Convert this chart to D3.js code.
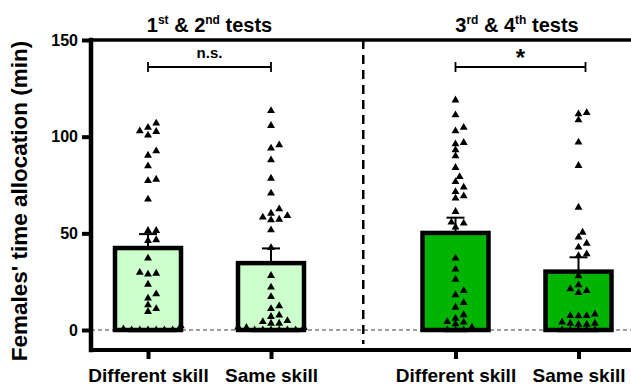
<!DOCTYPE html>
<html>
<head>
<meta charset="utf-8">
<script src="https://cdn.jsdelivr.net/npm/d3@7"></script>
<style>
  html, body { margin: 0; padding: 0; background: #fff; }
  svg { display: block; font-family: Arial, "Liberation Sans", sans-serif; }
</style>
</head>
<body>
<svg id="chart" width="631" height="389"></svg>
<script>
// ---- data ---------------------------------------------------------------
const categories = ["Different skill", "Same skill", "Different skill", "Same skill"];
const panelTitles = [["1", "st", " & 2", "nd", " tests"], ["3", "rd", " & 4", "th", " tests"]];
const significance = ["n.s.", "*"];
const yTicks = [0, 50, 100, 150];

// bar heights (mean) and error bar (SEM), minutes
const means = [42.4, 34.6, 50.2, 30.2];
const sems = [7.2, 7.6, 7.9, 7.4];

// individual females, minutes
const diff12 = [106.9, 102.6, 104.7, 100.7, 102.9, 90.3, 92.6, 84.8, 77.9, 77.2, 67.6,
  51.4, 51.4, 46.6, 46.2, 37.1, 29.7, 28.8, 29.3, 23.6, 18.6, 16.4, 12.9, 11.0, 9.5,
  0, 2.1, 0, 0.5, 0, 0, 0, 0];
const same12 = [113.4, 105.7, 94.0, 95.7, 87.9, 78.4, 70.7, 62.6, 59.1, 58.3, 60.3, 56.9,
  57.2, 51.7, 42.5, 28.1, 22.1, 17.2, 12.4, 11.0, 6.9, 7.6, 4.8, 4.3, 3.4, 3.4, 1.4, 1.2,
  1.2, 0, 0, 0, 0, 0, 0];
const diff34 = [118.9, 111.2, 102.9, 104.7, 96.9, 96.2, 93.1, 90.0, 84.0, 79.3, 76.7, 73.8,
  71.5, 68.1, 69.3, 61.2, 55.2, 55.7, 53.1, 37.1, 31.4, 26.2, 20.3, 18.1, 14.1, 11.7, 7.8,
  6.0, 4.3, 3.1, 4.0, 1.4, 0, 0, 0];
const same34 = [111.7, 112.4, 108.6, 97.1, 85.0, 63.4, 50.5, 48.0, 44.8, 42.8, 39.3, 38.4,
  27.9, 23.3, 19.3, 20.3, 21.2, 7.4, 8.1, 7.2, 7.4, 3.4, 2.9, 3.4, 2.9, 4.0, 0, 0, 0, 0, 0];
const points = [diff12, same12, diff34, same34];
const fills = ["#ccffcc", "#ccffcc", "#00b400", "#00b400"];

// ---- layout -------------------------------------------------------------
const svg = d3.select("#chart");
const plotLeft = 91, plotRight = 631, plotTop = 40, zeroY = 330, plotBottom = 350;
const font = "Arial, 'Liberation Sans', sans-serif";

const y = d3.scaleLinear().domain([0, 150]).range([zeroY, plotTop]);
// slot of each bar: two bars per panel, half a slot of extra gap between panels
const slot = i => i + (i >= 2 ? 0.5 : 0);
const x = d3.scaleLinear().domain([0, 3.5]).range([148, 578.5]);
const cx = i => x(slot(i));
const barHalf = 33;

// zero reference line
svg.append("line")
  .attr("x1", plotLeft).attr("x2", plotRight).attr("y1", y(0)).attr("y2", y(0))
  .attr("stroke", "#808080").attr("stroke-width", 1.3).attr("stroke-dasharray", "4,3");

// bars
svg.selectAll("rect.bar").data(means).join("rect")
  .attr("class", "bar")
  .attr("x", (d, i) => cx(i) - barHalf)
  .attr("width", barHalf * 2)
  .attr("y", d => y(d))
  .attr("height", d => y(0) - y(d))
  .attr("fill", (d, i) => fills[i])
  .attr("stroke", "#000").attr("stroke-width", 4.5);

// error bars (upper only)
means.forEach((m, i) => {
  const g = svg.append("g").attr("stroke", "#000").attr("stroke-width", 2);
  g.append("line").attr("x1", cx(i)).attr("x2", cx(i)).attr("y1", y(m)).attr("y2", y(m + sems[i]));
  g.append("line").attr("x1", cx(i) - 9).attr("x2", cx(i) + 9)
    .attr("y1", y(m + sems[i])).attr("y2", y(m + sems[i]));
});

// scatter of individual values, spread sideways so markers do not overlap
// (placed from the lowest value upwards)
function swarm(values, center) {
  const step = 4.1, rx = 7.9, ry = 5.6;
  const items = values.map(v => ({ v, py: y(v) })).sort((a, b) => b.py - a.py);
  const placed = [];
  items.forEach(p => {
    for (let k = 0; k < 60; k++) {
      const cands = k === 0 ? [0] : [k * step, -k * step];
      let ok = null;
      for (const off of cands) {
        const hit = placed.some(q => {
          const dx = (q.px - (center + off)) / rx, dy = (q.py - p.py) / ry;
          return dx * dx + dy * dy < 1;
        });
        if (!hit) { ok = off; break; }
      }
      if (ok !== null) { p.px = center + ok; break; }
    }
    placed.push(p);
  });
  return placed;
}
const tri = d3.symbol().type(d3.symbolTriangle).size(27);
points.forEach((vals, i) => {
  svg.append("g").selectAll("path").data(swarm(vals, cx(i))).join("path")
    .attr("d", tri)
    .attr("transform", d => `translate(${d.px},${d.py})`)
    .attr("fill", "#000");
});

// frame: top rule, y axis, x axis
const ax = svg.append("g").attr("stroke", "#000").attr("stroke-linecap", "square");
ax.append("line").attr("x1", plotLeft).attr("x2", plotRight).attr("y1", plotTop).attr("y2", plotTop).attr("stroke-width", 3.5);
ax.append("line").attr("x1", plotLeft).attr("x2", plotLeft).attr("y1", plotTop).attr("y2", plotBottom).attr("stroke-width", 4.5);
ax.append("line").attr("x1", plotLeft).attr("x2", plotRight).attr("y1", plotBottom).attr("y2", plotBottom).attr("stroke-width", 4);

// y axis ticks and labels
const yAxis = d3.axisLeft(y).tickValues(yTicks).tickSize(9).tickPadding(4).tickFormat(d3.format("d"));
const gy = svg.append("g").attr("transform", `translate(${plotLeft},0)`).call(yAxis);
gy.select(".domain").remove();
gy.selectAll(".tick line").attr("stroke", "#000").attr("stroke-width", 4);
gy.selectAll(".tick text").attr("font-size", 16).attr("font-weight", "bold").attr("fill", "#000")
  .attr("font-family", font);

// x axis ticks and labels
const xAxis = d3.axisBottom(x).tickValues(categories.map((c, i) => slot(i)))
  .tickSize(9).tickPadding(10).tickFormat((d, i) => categories[i]);
const gx = svg.append("g").attr("transform", `translate(0,${plotBottom})`).call(xAxis);
gx.select(".domain").remove();
gx.selectAll(".tick line").attr("stroke", "#000").attr("stroke-width", 4);
gx.selectAll(".tick text").attr("font-size", 19).attr("font-weight", "bold").attr("fill", "#000")
  .attr("font-family", font);

// panel divider
svg.append("line")
  .attr("x1", x(1.75)).attr("x2", x(1.75)).attr("y1", plotTop).attr("y2", plotBottom - 6)
  .attr("stroke", "#000").attr("stroke-width", 2.5).attr("stroke-dasharray", "9,6");

// panel titles with ordinal superscripts
panelTitles.forEach((parts, g) => {
  const t = svg.append("text")
    .attr("x", (cx(2 * g) + cx(2 * g + 1)) / 2).attr("y", 32)
    .attr("text-anchor", "middle").attr("font-size", 20).attr("font-weight", "bold");
  parts.forEach((p, j) => {
    const sup = j % 2 === 1;
    t.append("tspan").text(p)
      .attr("font-size", sup ? 12 : 20)
      .attr("dy", j === 0 ? 0 : (sup ? -8 : 8));
  });
});

// significance brackets
significance.forEach((lab, g) => {
  const x1 = cx(2 * g), x2 = cx(2 * g + 1) + (g === 1 ? 7 : 0), by = 67;
  const b = svg.append("g").attr("stroke", "#000").attr("stroke-width", 1.8);
  b.append("line").attr("x1", x1).attr("x2", x2).attr("y1", by).attr("y2", by);
  b.append("line").attr("x1", x1).attr("x2", x1).attr("y1", by - 5).attr("y2", by + 5);
  b.append("line").attr("x1", x2).attr("x2", x2).attr("y1", by - 5).attr("y2", by + 5);
  svg.append("text").attr("x", (x1 + x2) / 2).attr("y", lab === "*" ? 66 : 58)
    .attr("text-anchor", "middle").attr("font-weight", "bold")
    .attr("font-size", lab === "*" ? 24 : 15).text(lab);
});

// y axis title
svg.append("text")
  .attr("transform", `translate(27,${(plotTop + plotBottom) / 2 + 6}) rotate(-90)`)
  .attr("text-anchor", "middle").attr("font-size", 22.5).attr("font-weight", "bold")
  .text("Females' time allocation (min)");
</script>
</body>
</html>
